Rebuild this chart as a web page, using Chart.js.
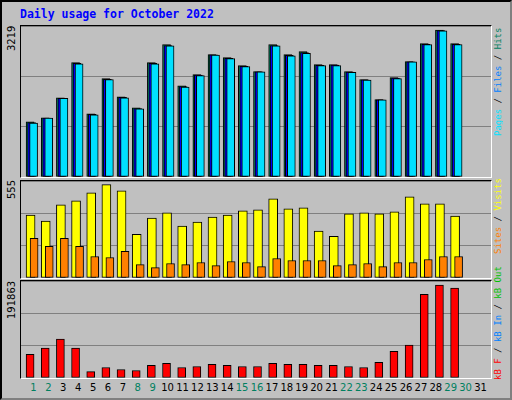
<!DOCTYPE html>
<html>
<head>
<meta charset="utf-8">
<script src="https://cdn.jsdelivr.net/npm/chart.js@4/dist/chart.umd.min.js"></script>
<style>
  body { margin: 0; background: #fff; }
  #frame { position: relative; width: 508px; height: 396px; background: #c0c0c0;
    border: 2px solid; border-color: #000 #808080 #808080 #000; overflow: hidden; }
  .panel { position: absolute; left: 18px; width: 470px; border: 1px solid; border-color: #000 #fff #fff #000; }
  .panel canvas { display: block; }
  .txt { position: absolute; white-space: nowrap; }
  .vert { position: absolute; writing-mode: vertical-rl; transform: rotate(180deg); white-space: nowrap; }
  #title { left: 18px; top: 5px; font: bold 11.5px "DejaVu Sans Mono", monospace; color: #0000ff; }
  .ax { font: 10px "DejaVu Sans", sans-serif; color: #000; text-align: end; }
  .leg { font: 9px "DejaVu Sans Mono", monospace; color: #000; }
  .day { font: 10px "DejaVu Sans", sans-serif; top: 380px; transform: translateX(-50%); }
</style>
</head>
<body>
<div id="frame">
  <div class="txt" id="title">Daily usage for October 2022</div>

  <div class="panel" style="top:23px;height:151px"><canvas id="top" width="470" height="151"></canvas></div>
  <div class="panel" style="top:178px;height:97px"><canvas id="mid" width="470" height="97"></canvas></div>
  <div class="panel" style="top:278px;height:97px"><canvas id="bot" width="470" height="97"></canvas></div>

  <div class="vert ax" style="left:4px;top:24px;height:40px">3219</div>
  <div class="vert ax" style="left:4px;top:178px;height:30px">555</div>
  <div class="vert ax" style="left:4px;top:279px;height:50px">191863</div>

  <div class="vert leg" style="left:491px;top:26px;height:115px;text-align:end"><span style="color:#00e0ff">Pages</span> / <span style="color:#0080ff">Files</span> / <span style="color:#008060">Hits</span></div>
  <div class="vert leg" style="left:491px;top:176px;height:80px;text-align:end"><span style="color:#ff8000">Sites</span> / <span style="color:#ffff00">Visits</span></div>
  <div class="vert leg" style="left:491px;top:260px;height:118px;text-align:start"><span style="color:#ff0000">kB F</span> / <span style="color:#0080ff">kB In</span> / <span style="color:#00c000">kB Out</span></div>
  <div id="days"></div>
</div>
<script>
const days = ['1','2','3','4','5','6','7','8','9','10','11','12','13','14','15','16','17','18','19','20','21','22','23','24','25','26','27','28','29','30','31'];
const weekend = ['1','2','8','9','15','16','22','23','29','30'];

const hits  = [1209,1296,1733,2505,1384,2156,1755,1515,2505,2899,1996,2243,2680,2615,2440,2309,2899,2680,2746,2462,2462,2309,2134,1697,2178,2527,2920,3219,2920,0,0];
const files = [1190,1290,1725,2490,1370,2140,1745,1500,2490,2880,1980,2230,2675,2600,2425,2305,2880,2665,2725,2445,2450,2295,2125,1690,2165,2520,2905,3205,2905,0,0];
const pages = [1180,1290,1720,2480,1360,2135,1735,1490,2480,2870,1970,2220,2670,2590,2420,2300,2870,2655,2710,2440,2440,2290,2120,1690,2155,2520,2900,3200,2900,0,0];
const visits = [375,339,435,459,507,555,519,260,357,387,309,333,363,375,399,405,471,411,417,279,248,381,387,381,393,483,441,441,369,0,0];
const sites  = [236,188,236,188,128,122,158,80,62,86,80,92,74,98,92,68,116,104,104,104,74,80,86,68,92,92,110,128,128,0,0];
const kbF = [49000,61600,80500,61600,13300,21700,17500,15400,25900,30100,21700,23800,28000,25900,23800,23800,30100,28000,28000,25900,25900,23800,21700,32200,55300,67900,172900,191863,185600,0,0];

const shift = {
  id: 'shift',
  beforeDatasetDraw(chart, args) {
    chart.ctx.save();
    chart.ctx.translate(chart.data.datasets[args.index].dx || 0, 0);
  },
  afterDatasetDraw(chart) { chart.ctx.restore(); }
};

function bars(label, data, color, dx, thick, order) {
  return { label, data, backgroundColor: color, borderColor: '#000', borderWidth: 1,
    barThickness: thick, grouped: false, dx, order, borderSkipped: false };
}

function panel(id, datasets, max) {
  new Chart(document.getElementById(id), {
    type: 'bar',
    data: { labels: days, datasets },
    plugins: [shift],
    options: {
      responsive: false, animation: false,
      layout: { padding: 0 },
      plugins: { legend: { display: false }, tooltip: { enabled: false } },
      scales: {
        x: { display: false, offset: true },
        y: { min: 0, max, display: true,
          ticks: { display: false, stepSize: max / 3 },
          grid: { color: '#808080', drawTicks: false, lineWidth: 1 },
          border: { display: false } }
      }
    }
  });
}

panel('top', [
  bars('Hits', hits, '#00805c', 1.5, 8, 3),
  bars('Files', files, '#0000ff', 3, 8, 2),
  bars('Pages', pages, '#00e0ff', 5, 8, 1)
], 3306);
panel('mid', [
  bars('Visits', visits, '#ffff00', 2, 9, 2),
  bars('Sites', sites, '#ff8000', 5.5, 8, 1)
], 577);
panel('bot', [
  bars('kB F', kbF, '#ff0000', 1.5, 8, 1)
], 200260);

const box = document.getElementById('days');
days.forEach((d, i) => {
  const s = document.createElement('div');
  s.className = 'txt day';
  s.style.left = (31.5 + i * 14.9) + 'px';
  s.style.color = weekend.includes(d) ? '#008060' : '#000';
  s.textContent = d;
  box.appendChild(s);
});
</script>
</body>
</html>
